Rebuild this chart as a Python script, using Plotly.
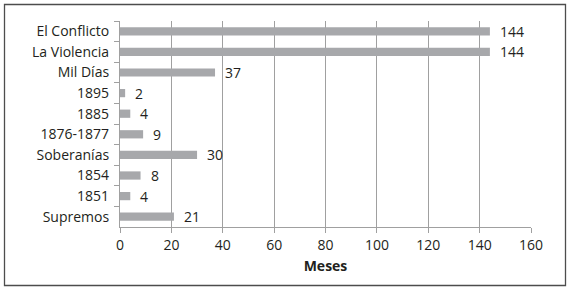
import plotly.graph_objects as go

categories = ["El Conflicto", "La Violencia", "Mil Días", "1895", "1885",
              "1876-1877", "Soberanías", "1854", "1851", "Supremos"]
months = [144, 144, 37, 2, 4, 9, 30, 8, 4, 21]
x_ticks = [0, 20, 40, 60, 80, 100, 120, 140, 160]

W, H = 571, 291
ml, mr, mt, mb = 120, 40, 21, 64
pw, ph = W - ml - mr, H - mt - mb

FONT = dict(family="Open Sans", size=14, color="#231f20")

fig = go.Figure()
fig.add_trace(go.Bar(
    y=categories, x=months, orientation="h",
    marker=dict(color="#a7a8ab", line=dict(width=0)),
    hoverinfo="skip",
))

# value labels (category index used to avoid numeric-looking names being read as indices)
for i, v in enumerate(months):
    fig.add_annotation(x=v, y=i, text=str(v), showarrow=False,
                       xanchor="left", xshift=8, yshift=0, font=FONT)

# outer frame
fig.add_shape(type="rect", xref="paper", yref="paper",
              x0=(4.5 - ml) / pw, x1=(565.5 - ml) / pw,
              y0=(H - mb - 285.5) / ph, y1=(H - mb - 4.5) / ph,
              line=dict(color="#4d4d4d", width=1.3), fillcolor="rgba(0,0,0,0)",
              layer="below")

fig.update_layout(
    width=W, height=H,
    margin=dict(l=ml, r=mr, t=mt, b=mb, autoexpand=False),
    paper_bgcolor="white", plot_bgcolor="white",
    bargap=0.6, showlegend=False,
    font=FONT,
    xaxis=dict(range=[0, 160], tickvals=x_ticks, ticktext=[str(t) for t in x_ticks],
               showgrid=True, gridcolor="#a0a0a0", gridwidth=1.2,
               zeroline=False, showline=True, linecolor="#a0a0a0", linewidth=1.2,
               ticks="outside", ticklen=5, tickcolor="#a0a0a0", automargin=False,
               tickfont=FONT,
               title=dict(text="<b>Meses</b>", standoff=8, font=FONT)),
    yaxis=dict(type="category", categoryorder="array", categoryarray=categories,
               range=[len(categories) - 0.5, -0.5], autorange=False, automargin=False,
               showgrid=False, zeroline=False, showline=True, linecolor="#a0a0a0",
               linewidth=1.2, ticks="outside", ticklen=5, tickcolor="#a0a0a0",
               tickson="boundaries", ticklabelstandoff=7,
               tickfont=FONT),
)

fig.write_html("out.html", config={"displayModeBar": False},
               post_script="document.body.style.margin='0';document.body.style.overflow='hidden';")
